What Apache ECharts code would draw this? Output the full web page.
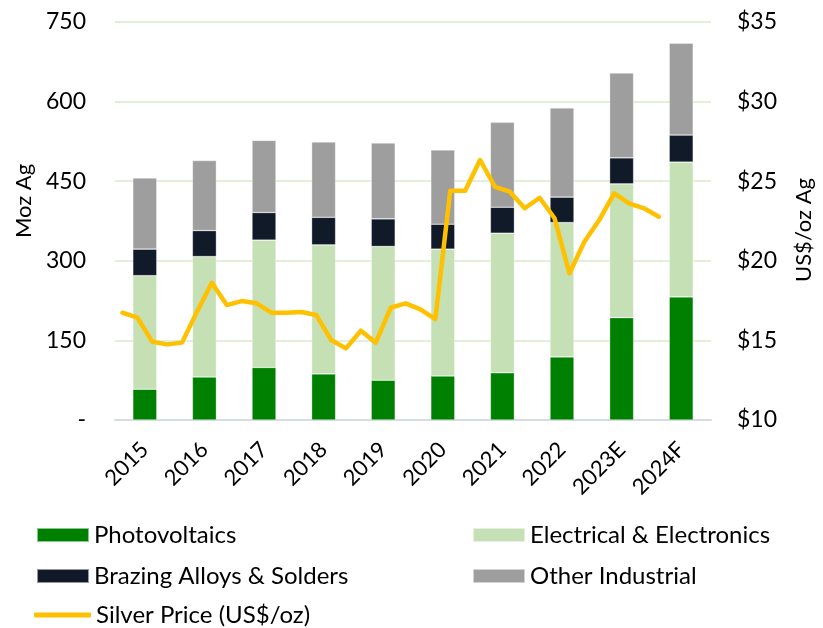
<!DOCTYPE html>
<html>
<head>
<meta charset="utf-8">
<title>Silver industrial demand</title>
<script src="https://cdn.jsdelivr.net/npm/echarts@6/dist/echarts.min.js"></script>
<style>
  html, body { margin: 0; padding: 0; background: #fff; }
  #main { width: 823px; height: 628px; }
</style>
</head>
<body>
<div id="main"></div>
<script>
// categories (years)
var years = ['2015', '2016', '2017', '2018', '2019', '2020', '2021', '2022', '2023E', '2024F'];

// industrial demand, Moz Ag
var photovoltaics = [58, 81, 99, 87, 75, 83, 89, 119, 193, 232];
var electrical = [214, 227, 240, 243, 252, 239, 263, 253, 252, 254];
var brazing = [50, 49, 52, 52, 52, 47, 49, 48, 49, 51];
var otherIndustrial = [134, 132, 136, 142, 143, 140, 160, 168, 160, 173];

// silver price, US$/oz, quarterly from Q1 2015
var silverPrice = [
  16.74, 16.43, 14.92, 14.75,
  14.86, 16.8, 18.62, 17.22,
  17.47, 17.33, 16.74, 16.74,
  16.78, 16.6, 15.03, 14.5,
  15.61, 14.86, 17.05, 17.33,
  16.95, 16.33, 24.4, 24.4,
  26.33, 24.65, 24.34, 23.3,
  23.96, 22.67, 19.21, 21.2,
  22.56, 24.24, 23.61, 23.3,
  22.77
];

// hidden quarter axis so the price line sits inside each year band
var quarters = [];
years.forEach(function (y) {
  for (var q = 1; q <= 4; q++) quarters.push(y + ' Q' + q);
});

var font = 'Lato';
var textColor = '#000';
var barBorder = { borderColor: 'rgba(255,255,255,0.55)', borderWidth: 0.6 };
var legendText = { fontFamily: font, fontSize: 24, color: textColor };

var chart = echarts.init(document.getElementById('main'));

var option = {
  animation: false,
  textStyle: { fontFamily: font, color: textColor },
  grid: { left: 115, right: 106, top: 22, bottom: 208, containLabel: false },
  legend: [
    {
      left: 31, top: 518, itemWidth: 52, itemHeight: 14,
      textStyle: legendText,
      data: [{ name: 'Photovoltaics', icon: 'rect' }]
    },
    {
      left: 467, top: 518, itemWidth: 52, itemHeight: 14,
      textStyle: legendText,
      data: [{ name: 'Electrical & Electronics', icon: 'rect' }]
    },
    {
      left: 31, top: 559, itemWidth: 52, itemHeight: 14,
      textStyle: legendText,
      data: [{ name: 'Brazing Alloys & Solders', icon: 'rect' }]
    },
    {
      left: 467, top: 559, itemWidth: 52, itemHeight: 14,
      textStyle: legendText,
      data: [{ name: 'Other Industrial', icon: 'rect' }]
    },
    {
      left: 29, top: 598, itemWidth: 57, itemHeight: 5,
      textStyle: legendText,
      data: [{ name: 'Silver Price (US$/oz)', icon: 'roundRect' }]
    }
  ],
  xAxis: [
    {
      type: 'category',
      data: years,
      axisLine: { lineStyle: { color: '#D6DCE5', width: 2 } },
      axisTick: { show: false },
      axisLabel: {
        rotate: 45, fontSize: 22, color: textColor, fontFamily: font,
        margin: 26, interval: 0
      }
    },
    {
      type: 'category',
      data: quarters,
      show: false,
      boundaryGap: true
    }
  ],
  yAxis: [
    {
      type: 'value',
      min: 0, max: 750, interval: 150,
      name: 'Moz Ag',
      nameLocation: 'middle',
      nameGap: 80,
      nameTextStyle: { fontSize: 22, color: textColor, fontFamily: font, padding: [0, 0, 0, 40] },
      axisLine: { show: false },
      axisTick: { show: false },
      axisLabel: {
        fontSize: 23, color: textColor, fontFamily: font, margin: 29,
        formatter: function (v) { return v === 0 ? '-' : String(v); }
      },
      splitLine: { lineStyle: { color: '#E2F0D9', width: 2 } }
    },
    {
      type: 'value',
      min: 10, max: 35, interval: 5,
      name: 'US$/oz Ag',
      nameLocation: 'middle',
      nameGap: 82,
      nameRotate: 90,
      nameTextStyle: { fontSize: 22, color: textColor, fontFamily: font, padding: [0, 18, 0, 0] },
      axisLine: { show: false },
      axisTick: { show: false },
      axisLabel: {
        fontSize: 23, color: textColor, fontFamily: font, margin: 26,
        formatter: function (v) { return '$' + v; }
      },
      splitLine: { show: false }
    }
  ],
  series: [
    {
      name: 'Photovoltaics', type: 'bar', stack: 'demand', barWidth: 24,
      itemStyle: Object.assign({ color: '#008000' }, barBorder),
      data: photovoltaics
    },
    {
      name: 'Electrical & Electronics', type: 'bar', stack: 'demand', barWidth: 24,
      itemStyle: Object.assign({ color: '#C5E0B4' }, barBorder),
      data: electrical
    },
    {
      name: 'Brazing Alloys & Solders', type: 'bar', stack: 'demand', barWidth: 24,
      itemStyle: Object.assign({ color: '#111A28' }, barBorder),
      data: brazing
    },
    {
      name: 'Other Industrial', type: 'bar', stack: 'demand', barWidth: 24,
      itemStyle: Object.assign({ color: '#9E9E9E' }, barBorder),
      data: otherIndustrial
    },
    {
      name: 'Silver Price (US$/oz)', type: 'line',
      xAxisIndex: 1, yAxisIndex: 1,
      symbol: 'none',
      itemStyle: { color: '#FFC000' },
      lineStyle: { color: '#FFC000', width: 4.5, cap: 'round', join: 'round' },
      data: silverPrice,
      z: 5
    }
  ]
};

chart.setOption(option);
</script>
</body>
</html>
